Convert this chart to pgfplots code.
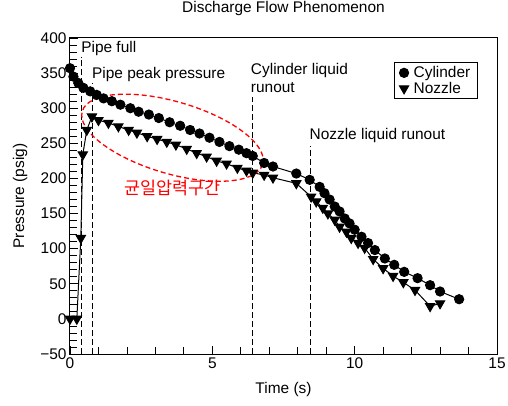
\documentclass[border=0pt]{standalone}
\usepackage{fontspec}
\setmainfont{Liberation Sans}
\newfontfamily\kr{Noto Sans CJK KR}
\usepackage{pgfplots}
\pgfplotsset{compat=1.18}
\usetikzlibrary{shapes.geometric}

\newcommand\lbl{\fontsize{15.5}{18}\selectfont}

\pgfplotstableread{
t p
0.00 357
0.12 345
0.29 336
0.47 329
0.71 324
0.94 319
1.18 314
1.47 310
1.77 305
2.12 300
2.41 295
2.77 291
3.12 286
3.50 280
3.87 275
4.22 269
4.55 264
4.90 258
5.25 252
5.60 246
5.93 241
6.20 236
6.42 232
6.82 222
7.13 217
7.95 207
8.42 198
8.77 188
8.94 179
9.12 170
9.30 160
9.47 153
9.65 143
9.82 136
10.00 127
10.24 117
10.47 108
10.71 98
11.06 86
11.39 77
11.74 67
12.21 58
12.65 48
13.00 39
13.67 28
}\cylinder

\pgfplotstableread{
t p
0.00 0
0.24 0
0.38 115
0.45 234
0.59 269
0.77 288
1.00 283
1.35 279
1.70 274
2.06 269
2.35 265
2.71 260
3.06 256
3.40 252
3.72 248
4.10 242
4.45 236
4.80 231
5.15 225
5.50 221
5.88 215
6.20 211
6.42 208
6.82 205
7.13 201
7.95 193
8.47 174
8.65 167
8.88 158
9.06 150
9.30 141
9.47 131
9.71 124
9.88 115
10.12 108
10.35 101
10.65 85
11.00 72
11.35 61
11.71 52
12.12 41
12.65 18
13.00 22
}\nozzle

\begin{document}
\begin{tikzpicture}
\useasboundingbox (-70bp,-52bp) rectangle (438bp,354bp);
\begin{axis}[
  scale only axis,
  width=427bp, height=316bp,
  xmin=0, xmax=15, ymin=-50, ymax=400,
  xtick={0,5,10,15}, minor x tick num=4,
  ytick={-50,0,50,100,150,200,250,300,350,400},
  yticklabels={−50,0,50,100,150,200,250,300,350,400},
  minor y tick num=4,
  xtick pos=bottom, ytick pos=left,
  tick align=inside,
  major tick length=8bp, minor tick length=7bp,
  tick style={black, line width=0.8bp},
  axis line style={black, line width=1bp},
  tick label style={font=\lbl},
  /pgf/number format/assume math mode=true,
  title={Discharge Flow Phenomenon},
  title style={font=\lbl, at={(axis description cs:0.5,1.073)}, anchor=center},
  xlabel={Time (s)},
  xlabel style={font=\lbl, at={(axis description cs:0.5,-0.111)}, anchor=center},
  ylabel={Pressure (psig)},
  ylabel style={font=\lbl, at={(axis description cs:-0.117,0.5)}, anchor=center},
  legend style={at={(axis description cs:0.955,0.924)}, anchor=north east,
    draw=black, line width=1bp, font=\lbl, inner xsep=5bp, inner ysep=2bp,
    row sep=-1bp},
  legend cell align=left,
]
\addlegendimage{only marks, mark=*, mark size=4.6bp, black}
\addlegendentry{\hspace{3bp}Cylinder}
\addlegendimage{only marks, mark=triangle*, mark options={rotate=180}, mark size=5.3bp, black}
\addlegendentry{\hspace{3bp}Nozzle}

\addplot[black, line width=1bp, mark=*, mark size=4.6bp, forget plot] table[x=t,y=p] {\cylinder};
\addplot[black, line width=1bp, mark=triangle*, mark options={rotate=180}, mark size=5.3bp, forget plot] table[x=t,y=p] {\nozzle};

% event lines
\draw[black, line width=0.9bp, dash pattern=on 6bp off 3bp] (axis cs:0.40,-50) -- (axis cs:0.40,373);
\draw[black, line width=0.9bp, dash pattern=on 6bp off 3bp] (axis cs:0.79,-50) -- (axis cs:0.79,336);
\draw[black, line width=0.9bp, dash pattern=on 6bp off 3bp] (axis cs:6.40,-50) -- (axis cs:6.40,316);
\draw[black, line width=0.9bp, dash pattern=on 6bp off 3bp] (axis cs:8.45,-50) -- (axis cs:8.45,246);

\node[anchor=base west, font=\lbl, inner sep=0] at (axis cs:0.39,380) {Pipe full};
\node[anchor=base west, font=\lbl, inner sep=0] at (axis cs:0.77,343) {Pipe peak pressure};
\node[anchor=base west, font=\lbl, inner sep=0] at (axis cs:6.35,348) {Cylinder liquid};
\node[anchor=base west, font=\lbl, inner sep=0] at (axis cs:6.35,322) {runout};
\node[anchor=base west, font=\lbl, inner sep=0] at (axis cs:8.41,255) {Nozzle liquid runout};

% uniform pressure region
\node[draw=red, line width=1.3bp, dash pattern=on 5bp off 3bp, ellipse,
  minimum width=188bp, minimum height=72bp, inner sep=0, rotate=-16.4]
  at (axis cs:3.6,258) {};
\node[red, font=\kr\fontsize{17.5}{20}\selectfont] at (axis cs:3.6,186) {균일압력구간};
\end{axis}
\end{tikzpicture}
\end{document}
